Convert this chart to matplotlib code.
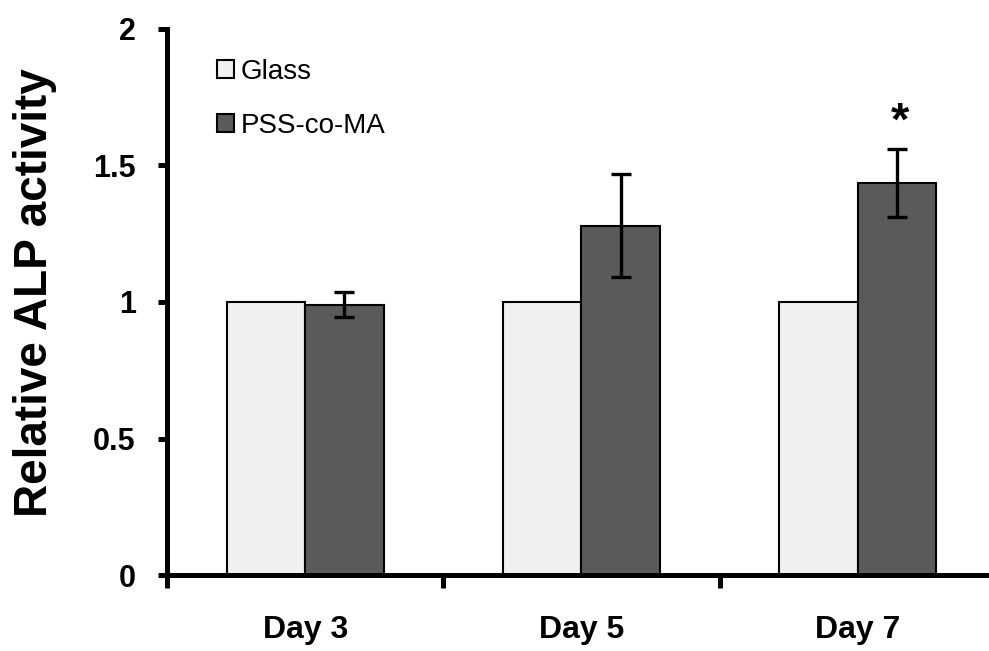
import numpy as np
import matplotlib
matplotlib.use('Agg')
import matplotlib.pyplot as plt

plt.rcParams['font.family'] = ['Liberation Sans', 'DejaVu Sans']

# ALP activity relative to glass control
days = ['Day 3', 'Day 5', 'Day 7']
glass = [1.0, 1.0, 1.0]
pss = [0.99, 1.28, 1.435]
pss_err = [0.045, 0.19, 0.125]
signif = [False, False, True]

x = np.arange(len(days))
w = 0.284

fig = plt.figure(figsize=(9.89, 6.51), dpi=100)
ax = fig.add_axes([0.1689, 0.1167, 0.8311, 0.8388])

ax.bar(x - w/2, glass, w, color='#f0f0f0', edgecolor='black', linewidth=1.5, label='Glass')
ax.bar(x + w/2, pss, w, color='#5a5a5a', edgecolor='black', linewidth=1.5, label='PSS-co-MA')
ax.errorbar(x + w/2, pss, yerr=pss_err, fmt='none', ecolor='black',
            elinewidth=2.4, capsize=7, capthick=2.4)

for xi, v, e, s in zip(x, pss, pss_err, signif):
    if s:
        ax.text(xi + w/2 + 0.01, v + e + 0.015, '*', ha='center', va='bottom',
                fontsize=34, fontweight='bold')

ax.set_xlim(-0.5, 2.475)
ax.set_ylim(0, 2)

ax.spines['top'].set_visible(False)
ax.spines['right'].set_visible(False)
ax.spines['left'].set_linewidth(3.6)
ax.spines['bottom'].set_linewidth(3.6)

ax.set_yticks([0, 0.5, 1, 1.5, 2])
ax.set_yticklabels(['0', '0.5', '1', '1.5', '2'])
ax.tick_params(axis='y', direction='out', length=6.5, width=3.6, pad=16,
               labelsize=22)
for t in ax.get_yticklabels():
    t.set_fontweight('bold')

ax.set_xticks(x)
ax.set_xticklabels(days, fontsize=23, fontweight='bold')
ax.set_xticks([-0.5, 0.5, 1.5], minor=True)
ax.tick_params(axis='x', which='major', length=0, pad=29)
ax.tick_params(axis='x', which='minor', direction='out', length=9, width=3.6)

ax.set_ylabel('Relative ALP activity', fontsize=33, fontweight='bold')
ax.yaxis.set_label_coords(-0.134, 0.517)

ax.legend(loc='upper left', bbox_to_anchor=(0.047, 0.965), frameon=False,
          fontsize=20, handlelength=0.62, handleheight=0.62,
          handletextpad=0.25, labelspacing=1.0, borderaxespad=0)

fig.savefig('out.png', dpi=100)
